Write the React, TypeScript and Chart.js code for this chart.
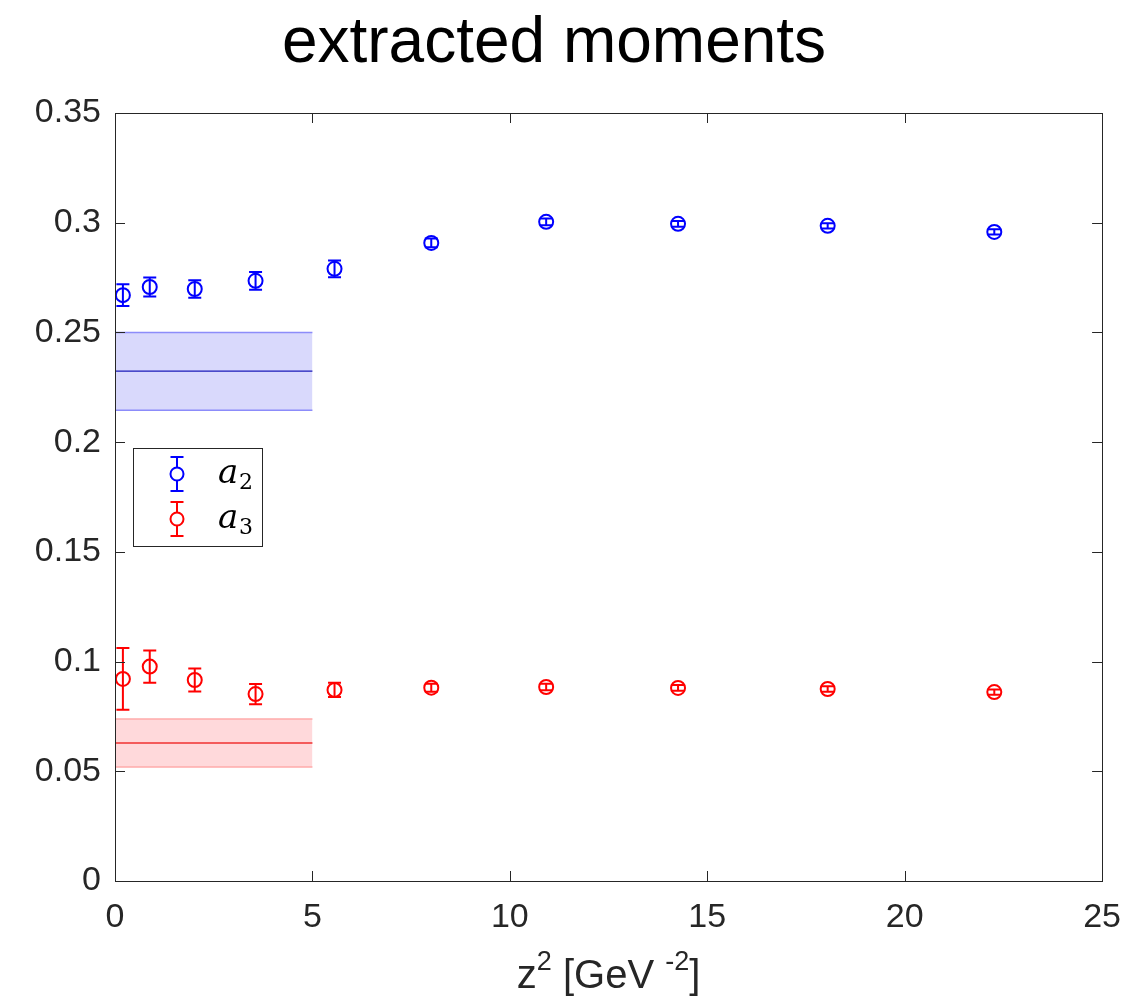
import React, { useEffect, useRef } from "react";
import { Chart, registerables } from "chart.js";

Chart.register(...registerables);

const titleText = "extracted moments";
const xAxisTitleParts = [
  { text: "z", sup: false },
  { text: "2", sup: true },
  { text: " [GeV ", sup: false },
  { text: "-2", sup: true },
  { text: "]", sup: false },
];
const zValues = [0.2, 0.88, 2.02, 3.56, 5.56, 8.01, 10.92, 14.26, 18.05, 22.27];
const a2Values = [0.267, 0.2707, 0.2698, 0.2735, 0.279, 0.2908, 0.3004, 0.2995, 0.2986, 0.2958];
const a2Errors = [0.005, 0.0043, 0.004, 0.004, 0.0038, 0.002, 0.0015, 0.0013, 0.0012, 0.0012];
const a3Values = [0.0921, 0.0977, 0.0916, 0.0852, 0.0871, 0.0881, 0.0884, 0.088, 0.0875, 0.0861];
const a3Errors = [0.0141, 0.0074, 0.0052, 0.0046, 0.0032, 0.0018, 0.0015, 0.0013, 0.0012, 0.0012];
const bandX = [0, 5];
const a2Band = { center: 0.2324, lower: 0.2145, upper: 0.25 };
const a3Band = { center: 0.0629, lower: 0.052, upper: 0.0738 };
const xTicks = [0, 5, 10, 15, 20, 25];
const yTicks = [0, 0.05, 0.1, 0.15, 0.2, 0.25, 0.3, 0.35];
const legendLabels = ["2", "3"];

const BLUE = "#0000ff";
const RED = "#ff0000";
const AXIS = "#262626";
const FONT = '"Liberation Sans", Arial, sans-serif';

const errorBarPlugin = {
  id: "errorBars",
  afterDatasetsDraw(chart: any) {
    const ctx = chart.ctx;
    const xs = chart.scales.x;
    const ys = chart.scales.y;
    const sets = [
      { vals: a2Values, errs: a2Errors, color: BLUE },
      { vals: a3Values, errs: a3Errors, color: RED },
    ];
    ctx.save();
    ctx.lineWidth = 2;
    for (const s of sets) {
      ctx.strokeStyle = s.color;
      for (let i = 0; i < zValues.length; i++) {
        const px = xs.getPixelForValue(zValues[i]);
        const top = ys.getPixelForValue(s.vals[i] + s.errs[i]);
        const bot = ys.getPixelForValue(s.vals[i] - s.errs[i]);
        const cap = 6.5;
        ctx.beginPath();
        ctx.moveTo(px, top);
        ctx.lineTo(px, bot);
        ctx.moveTo(px - cap, top);
        ctx.lineTo(px + cap, top);
        ctx.moveTo(px - cap, bot);
        ctx.lineTo(px + cap, bot);
        ctx.stroke();
      }
    }
    ctx.restore();
  },
};

const framePlugin = {
  id: "frame",
  afterDraw(chart: any) {
    const ctx = chart.ctx;
    const a = chart.chartArea;
    const xs = chart.scales.x;
    const ys = chart.scales.y;
    ctx.save();
    ctx.strokeStyle = AXIS;
    ctx.lineWidth = 1;
    ctx.strokeRect(Math.round(a.left) + 0.5, Math.round(a.top) + 0.5, Math.round(a.right - a.left), Math.round(a.bottom - a.top));
    const tl = 10;
    ctx.beginPath();
    for (const v of xTicks) {
      const px = Math.round(xs.getPixelForValue(v)) + 0.5;
      ctx.moveTo(px, a.bottom);
      ctx.lineTo(px, a.bottom - tl);
      ctx.moveTo(px, a.top);
      ctx.lineTo(px, a.top + tl);
    }
    for (const v of yTicks) {
      const py = Math.round(ys.getPixelForValue(v)) + 0.5;
      ctx.moveTo(a.left, py);
      ctx.lineTo(a.left + tl, py);
      ctx.moveTo(a.right, py);
      ctx.lineTo(a.right - tl, py);
    }
    ctx.stroke();

    // title
    ctx.fillStyle = "#000";
    ctx.textAlign = "center";
    ctx.textBaseline = "alphabetic";
    ctx.font = `300 64px ${FONT}`;
    ctx.fillText(titleText, 554, 62);

    // x axis title with superscripts
    ctx.fillStyle = AXIS;
    ctx.textAlign = "left";
    const mainFont = `40px ${FONT}`;
    const supFont = `27px ${FONT}`;
    let total = 0;
    for (const p of xAxisTitleParts) {
      ctx.font = p.sup ? supFont : mainFont;
      total += ctx.measureText(p.text).width;
    }
    let tx = (a.left + a.right) / 2 - total / 2;
    const baseY = 988;
    for (const p of xAxisTitleParts) {
      ctx.font = p.sup ? supFont : mainFont;
      ctx.fillText(p.text, tx, p.sup ? baseY - 18 : baseY);
      tx += ctx.measureText(p.text).width;
    }

    // legend
    const lx = a.left + 18;
    const ly = a.top + 335;
    const lw = 129;
    const lh = 98;
    ctx.fillStyle = "#fff";
    ctx.fillRect(lx, ly, lw, lh);
    ctx.strokeStyle = AXIS;
    ctx.lineWidth = 1;
    ctx.strokeRect(lx + 0.5, ly + 0.5, lw, lh);
    const entries = [
      { color: BLUE, y: ly + 26, label: legendLabels[0] },
      { color: RED, y: ly + 71, label: legendLabels[1] },
    ];
    for (const e of entries) {
      const cx = lx + 44;
      ctx.strokeStyle = e.color;
      ctx.lineWidth = 2;
      ctx.beginPath();
      ctx.moveTo(cx, e.y - 17);
      ctx.lineTo(cx, e.y - 7);
      ctx.moveTo(cx, e.y + 7);
      ctx.lineTo(cx, e.y + 17);
      ctx.moveTo(cx - 6.5, e.y - 17);
      ctx.lineTo(cx + 6.5, e.y - 17);
      ctx.moveTo(cx - 6.5, e.y + 17);
      ctx.lineTo(cx + 6.5, e.y + 17);
      ctx.stroke();
      ctx.beginPath();
      ctx.arc(cx, e.y, 6.5, 0, Math.PI * 2);
      ctx.stroke();
      ctx.fillStyle = "#000";
      ctx.textAlign = "left";
      ctx.font = `italic 34px "DejaVu Serif", "Liberation Serif", serif`;
      ctx.fillText("a", lx + 85, e.y + 9);
      ctx.font = `22px "DejaVu Serif", "Liberation Serif", serif`;
      ctx.fillText(e.label, lx + 106, e.y + 15);
    }
    ctx.restore();
  },
};

export default function App() {
  const ref = useRef<HTMLCanvasElement | null>(null);
  useEffect(() => {
    if (!ref.current) return;
    const bandDs = (band: any, fillColor: string, edgeColor: string, lineColor: string) => [
      {
        type: "line",
        data: bandX.map((x) => ({ x, y: band.center })),
        borderColor: lineColor,
        borderWidth: 1.3,
        pointRadius: 0,
        fill: false,
      },
      {
        type: "line",
        data: bandX.map((x) => ({ x, y: band.lower })),
        borderColor: edgeColor,
        borderWidth: 1.5,
        pointRadius: 0,
        fill: false,
      },
      {
        type: "line",
        data: bandX.map((x) => ({ x, y: band.upper })),
        borderColor: edgeColor,
        borderWidth: 1.5,
        pointRadius: 0,
        backgroundColor: fillColor,
        fill: "-1",
      },
    ];
    const chart = new Chart(ref.current, {
      type: "scatter",
      data: {
        datasets: [
          {
            data: zValues.map((x, i) => ({ x, y: a2Values[i] })),
            borderColor: BLUE,
            backgroundColor: "rgba(0,0,0,0)",
            borderWidth: 2,
            pointRadius: 7,
            showLine: false,
          },
          {
            data: zValues.map((x, i) => ({ x, y: a3Values[i] })),
            borderColor: RED,
            backgroundColor: "rgba(0,0,0,0)",
            borderWidth: 2,
            pointRadius: 7,
            showLine: false,
          },
          ...bandDs(a2Band, "rgba(217,217,252,1)", "rgba(140,140,250,1)", "#1a1ab8"),
          ...bandDs(a3Band, "rgba(255,217,219,1)", "rgba(255,170,170,1)", "#f03030"),
        ] as any,
      },
      options: {
        animation: false,
        responsive: true,
        maintainAspectRatio: false,
        layout: { padding: { top: 113, right: 33, left: 0, bottom: 0 } },
        plugins: { legend: { display: false }, tooltip: { enabled: false }, title: { display: false } },
        scales: {
          x: {
            type: "linear",
            min: 0,
            max: 25,
            grid: { display: false, drawTicks: false },
            border: { display: false },
            afterFit: (s: any) => { s.height = 116; },
            afterBuildTicks: (s: any) => { s.ticks = xTicks.map((v) => ({ value: v })); },
            ticks: { padding: 16, color: AXIS, font: { family: FONT, size: 34 }, maxRotation: 0, callback: (v: any) => String(v) },
          },
          y: {
            type: "linear",
            min: 0,
            max: 0.35,
            grid: { display: false, drawTicks: false },
            border: { display: false },
            afterFit: (s: any) => { s.width = 115; },
            afterBuildTicks: (s: any) => { s.ticks = yTicks.map((v) => ({ value: v })); },
            ticks: { padding: 14, color: AXIS, font: { family: FONT, size: 34 }, callback: (v: any) => String(+Number(v).toFixed(2)) },
          },
        },
      } as any,
      plugins: [errorBarPlugin, framePlugin],
    });
    return () => chart.destroy();
  }, []);
  return (
    <div style={{ position: "absolute", left: 0, top: 0, width: 1137, height: 997, background: "#fff" }}>
      <canvas ref={ref} />
    </div>
  );
}
